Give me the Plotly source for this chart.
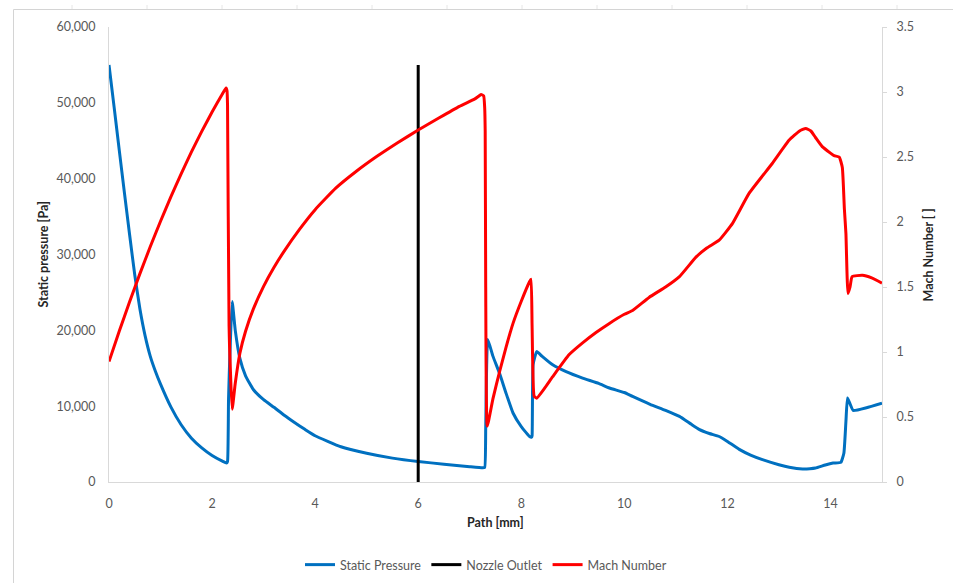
import plotly.graph_objects as go

# Static pressure along the path [mm] -> [Pa]
pressure_path = [0.0, 0.1, 0.2, 0.3, 0.4, 0.5, 0.6, 0.7, 0.8, 0.9, 1.0, 1.2, 1.4, 1.6, 1.8,
                 2.0, 2.2, 2.28, 2.30, 2.32, 2.39, 2.45, 2.54, 2.65, 2.8, 3.0, 3.2, 3.4,
                 3.6, 3.8, 4.0, 4.5, 5.0, 5.5, 6.0, 6.5, 7.0, 7.25, 7.29, 7.31, 7.35, 7.45,
                 7.58, 7.7, 7.84, 8.0, 8.16, 8.2, 8.21, 8.23, 8.3, 8.4, 8.61, 8.87, 9.19,
                 9.5, 9.71, 10.0, 10.16, 10.5, 10.8, 11.07, 11.3, 11.45, 11.65, 11.84,
                 12.0, 12.23, 12.45, 12.68, 13.0, 13.2, 13.46, 13.6, 13.71, 13.9, 14.05,
                 14.2, 14.26, 14.3, 14.33, 14.38, 14.44, 14.7, 15.0]
static_pressure = [55000, 49400, 43700, 38100, 32600, 27300, 22800, 19300, 16600, 14600,
                   12900, 9900, 7550, 5780, 4500, 3500, 2750, 2500, 2700, 11000, 23800,
                   20000, 16300, 14000, 12200, 10850, 9850, 8800, 7850, 6950, 6100, 4650,
                   3800, 3150, 2700, 2350, 2020, 1870, 1900, 7000, 18800, 16600, 14300,
                   11800, 9100, 7300, 6000, 5900, 6100, 15500, 17200, 16600, 15450, 14550,
                   13700, 13000, 12400, 11800, 11280, 10250, 9450, 8650, 7600, 6950, 6400,
                   6000, 5350, 4300, 3550, 2950, 2280, 1950, 1720, 1750, 1840, 2250, 2500,
                   2580, 3800, 8000, 11070, 10300, 9440, 9800, 10400]

# Mach number along the path [mm]
mach_path = [0.0, 0.2, 0.4, 0.6, 0.8, 1.0, 1.2, 1.4, 1.6, 1.8, 2.0, 2.2, 2.27, 2.29,
             2.30, 2.33, 2.39, 2.45, 2.54, 2.65, 2.8, 3.0, 3.2, 3.4, 3.7, 4.0, 4.4,
             4.8, 5.2, 5.6, 6.0, 6.4, 6.8, 7.1, 7.22, 7.27, 7.29, 7.30,
             7.31, 7.34, 7.45, 7.58, 7.7, 7.84, 8.0, 8.16, 8.19, 8.21, 8.25, 8.3, 8.45,
             8.61, 8.93, 9.19, 9.45, 9.71, 10.0, 10.16, 10.48, 10.8, 11.07, 11.39, 11.6,
             11.84, 12.1, 12.42, 12.87, 13.2, 13.4, 13.52, 13.62, 13.71, 13.84, 14.0,
             14.07, 14.17, 14.23, 14.27, 14.30, 14.34, 14.38, 14.42, 14.62, 14.8, 15.0]
mach_number = [0.926, 1.161, 1.387, 1.603, 1.809, 2.006, 2.193, 2.371, 2.539, 2.697, 2.846,
               2.985, 3.03, 3.01, 2.90, 1.20, 0.56, 0.76, 0.99, 1.16, 1.33, 1.505, 1.65,
               1.776, 1.945, 2.095, 2.26, 2.39, 2.505, 2.61, 2.707, 2.80, 2.89, 2.947,
               2.98, 2.97, 2.88, 2.70, 1.50, 0.43, 0.64, 0.85, 1.03, 1.22, 1.39, 1.54,
               1.56, 1.20, 0.66, 0.645, 0.72, 0.81, 0.98, 1.07, 1.15, 1.22, 1.29, 1.32,
               1.42, 1.50, 1.58, 1.73, 1.80, 1.86, 1.99, 2.22, 2.45, 2.63, 2.70, 2.72,
               2.70, 2.65, 2.58, 2.53, 2.51, 2.50, 2.42, 2.10, 1.91, 1.45, 1.50, 1.58,
               1.59, 1.57, 1.53]

# Nozzle outlet marker
nozzle_path = [6, 6]
nozzle_pressure = [0, 55000]

x_ticks = [0, 2, 4, 6, 8, 10, 12, 14]

FONT = "Lato"
TICK_COLOR = "#595959"
TITLE_COLOR = "#262626"
AXIS_LINE = "#d9d9d9"

W, H = 953, 583
L, R, T, B = 109, 71, 27, 101
PW, PH = W - L - R, H - T - B


def px(xpix):
    return (xpix - L) / PW


def py(ypix):
    return (H - B - ypix) / PH


fig = go.Figure()
fig.add_trace(go.Scatter(x=pressure_path, y=static_pressure, mode="lines",
                         name="Static Pressure",
                         line=dict(color="#0070C0", width=3, shape="spline", smoothing=0.4)))
fig.add_trace(go.Scatter(x=nozzle_path, y=nozzle_pressure, mode="lines",
                         name="Nozzle Outlet", line=dict(color="#000000", width=3)))
fig.add_trace(go.Scatter(x=mach_path, y=mach_number, mode="lines", yaxis="y2",
                         name="Mach Number",
                         line=dict(color="#FF0000", width=3, shape="spline", smoothing=0.4)))

# Worksheet frame around the chart
shapes = [
    dict(type="line", xref="paper", yref="paper", x0=px(13.5), x1=px(13.5),
         y0=py(583), y1=py(9.5), line=dict(color="#d4d4d4", width=1)),
    dict(type="line", xref="paper", yref="paper", x0=px(13.5), x1=px(953),
         y0=py(9.5), y1=py(9.5), line=dict(color="#d4d4d4", width=1)),
]
for col in range(12):
    xc = 72 + 75 * col
    shapes.append(dict(type="line", xref="paper", yref="paper", x0=px(xc), x1=px(xc),
                       y0=py(9), y1=py(5), line=dict(color="#e6e6e6", width=1)))

title_font = dict(family=FONT, size=12.5, color=TITLE_COLOR)
annotations = [
    dict(text="<b>Path [mm]</b>", xref="paper", yref="paper", x=px(495), y=py(522),
         xanchor="center", yanchor="middle", showarrow=False, font=title_font),
    dict(text="<b>Static pressure [Pa]</b>", xref="paper", yref="paper", x=px(43), y=0.5,
         xanchor="center", yanchor="middle", textangle=-90, showarrow=False, font=title_font),
    dict(text="<b>Mach Number [ ]</b>", xref="paper", yref="paper", x=px(928), y=0.5,
         xanchor="center", yanchor="middle", textangle=-90, showarrow=False, font=title_font),
]

tick_font = dict(family=FONT, size=12.5, color=TICK_COLOR)
fig.update_layout(
    width=W, height=H,
    margin=dict(l=L, r=R, t=T, b=B, pad=0, autoexpand=False),
    paper_bgcolor="white", plot_bgcolor="white",
    font=dict(family=FONT, size=12.5, color=TICK_COLOR),
    showlegend=True,
    legend=dict(orientation="h", xref="container", yref="container",
                x=486 / W, xanchor="center", y=(H - 565) / H, yanchor="middle",
                font=tick_font, bgcolor="rgba(0,0,0,0)", itemwidth=30),
    xaxis=dict(range=[0, 15], tickvals=x_ticks, showgrid=False, zeroline=False,
               showline=True, linecolor=AXIS_LINE, linewidth=1, ticks="",
               ticklabelstandoff=10, tickfont=tick_font),
    yaxis=dict(range=[0, 60000], dtick=10000, tickformat=",", showgrid=False,
               zeroline=False, showline=True, linecolor=AXIS_LINE, linewidth=1, ticks="",
               ticklabelstandoff=10, tickfont=tick_font),
    yaxis2=dict(range=[0, 3.5], dtick=0.5, overlaying="y", side="right", showgrid=False,
                zeroline=False, showline=True, linecolor=AXIS_LINE, linewidth=1,
                ticks="outside", ticklen=4, tickcolor=AXIS_LINE, ticklabelstandoff=7,
                tickfont=tick_font),
    shapes=shapes,
    annotations=annotations,
)

fig.write_html("out.html")
